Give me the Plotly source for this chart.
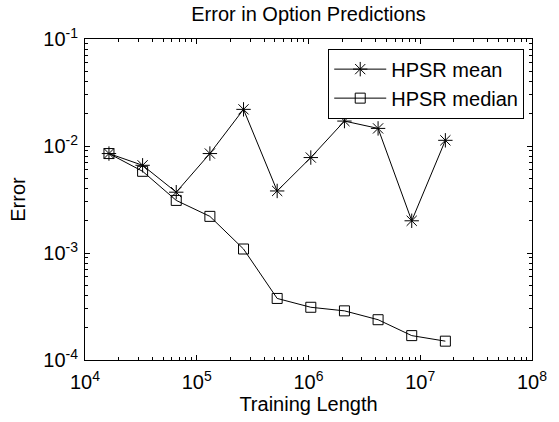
import plotly.graph_objects as go

# Training lengths (2^14 ... 2^24)
training_length = [16384, 32768, 65536, 131072, 262144, 524288,
                   1048576, 2097152, 4194304, 8388608, 16777216]

# Prediction error statistics
hpsr_mean = [0.0085, 0.0066, 0.0037, 0.0085, 0.0220, 0.0038,
             0.0078, 0.0171, 0.0146, 0.0020, 0.0113]
hpsr_median = [0.0085, 0.0058, 0.0031, 0.0022, 0.00109, 0.000376,
               0.000311, 0.000288, 0.000238, 0.000169, 0.000150]

x_tick_vals = [1e4, 1e5, 1e6, 1e7, 1e8]
x_tick_text = ["10<sup>4</sup>", "10<sup>5</sup>", "10<sup>6</sup>",
               "10<sup>7</sup>", "10<sup>8</sup>"]
y_tick_vals = [1e-4, 1e-3, 1e-2, 1e-1]
y_tick_text = ["10<sup>-4</sup>", "10<sup>-3</sup>", "10<sup>-2</sup>",
               "10<sup>-1</sup>"]

FONT = "Liberation Sans, Arial, Helvetica, sans-serif"
FS = 20

fig = go.Figure()
fig.add_trace(go.Scatter(
    x=training_length, y=hpsr_mean, name="HPSR mean",
    mode="lines+markers",
    line=dict(color="black", width=1),
    marker=dict(symbol="asterisk-open", size=12, color="black",
                line=dict(color="black", width=1)),
))
fig.add_trace(go.Scatter(
    x=training_length, y=hpsr_median, name="HPSR median",
    mode="lines+markers",
    line=dict(color="black", width=1),
    marker=dict(symbol="square-open", size=10, color="black",
                line=dict(color="black", width=1)),
))

axis_common = dict(
    type="log",
    showgrid=False,
    zeroline=False,
    showline=True,
    linecolor="black",
    linewidth=1,
    mirror="ticks",
    ticks="inside",
    ticklen=5,
    tickcolor="black",
    ticklabeloverflow="allow",
    tickfont=dict(family=FONT, size=FS, color="black"),
    minor=dict(ticks="inside", ticklen=3, tickcolor="black", dtick="D1",
               showgrid=False),
)

fig.update_xaxes(
    **axis_common,
    range=[4, 8],
    tickmode="array", tickvals=x_tick_vals, ticktext=x_tick_text,
    ticklabelstandoff=4,
    title=dict(text="Training Length", font=dict(family=FONT, size=FS, color="black"),
               standoff=2),
)
fig.update_yaxes(
    **axis_common,
    range=[-4, -1],
    tickmode="array", tickvals=y_tick_vals, ticktext=y_tick_text,
    ticklabelstandoff=2,
    title=dict(text="Error", font=dict(family=FONT, size=FS, color="black"),
               standoff=12),
)

fig.update_layout(
    width=559, height=422,
    margin=dict(l=85, r=15, t=39, b=62),
    paper_bgcolor="white",
    plot_bgcolor="white",
    font=dict(family=FONT, size=FS, color="black"),
    title=dict(text="Error in Option Predictions", x=0.5, xref="paper",
               y=1 - 14 / 422, yref="container", yanchor="middle",
               font=dict(family=FONT, size=FS, color="black")),
    legend=dict(
        x=0.9826, y=0.97, xanchor="right", yanchor="top",
        bgcolor="white", bordercolor="black", borderwidth=1,
        font=dict(family=FONT, size=FS, color="black"),
        itemwidth=52, tracegroupgap=0,
    ),
    showlegend=True,
)

fig.write_html("out.html")
